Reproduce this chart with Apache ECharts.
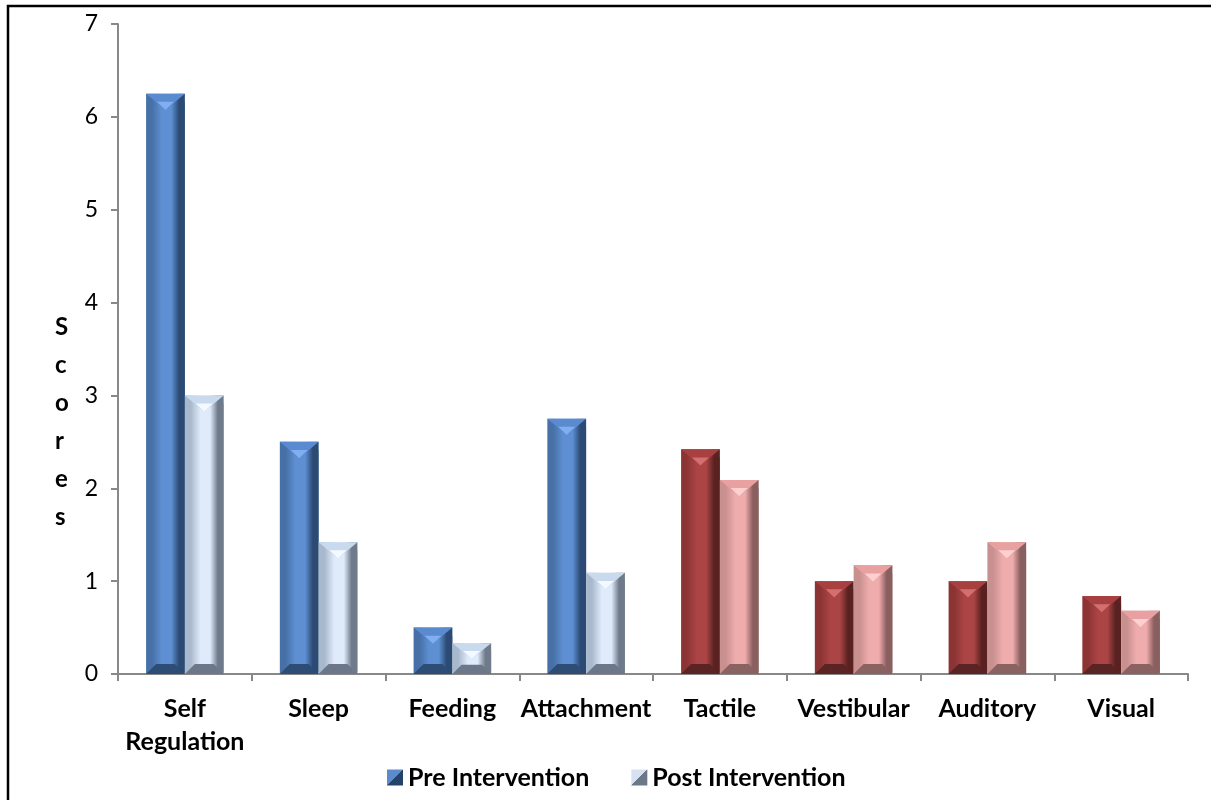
<!DOCTYPE html>
<html>
<head>
<meta charset="utf-8">
<script src="https://cdn.jsdelivr.net/npm/echarts@6/dist/echarts.min.js"></script>
<style>
  html, body { margin: 0; padding: 0; background: #fff; }
  #main { width: 1211px; height: 800px; }
</style>
</head>
<body>
<div id="main"></div>
<script>
// categories and scores
const categories = ['Self\nRegulation', 'Sleep', 'Feeding', 'Attachment', 'Tactile', 'Vestibular', 'Auditory', 'Visual']
const preValues = [6.25, 2.5, 0.5, 2.75, 2.42, 1.0, 1.0, 0.84]
const postValues = [3.0, 1.42, 0.33, 1.09, 2.09, 1.17, 1.42, 0.68]
const seriesNames = ['Pre Intervention', 'Post Intervention']
const yTicks = [0, 1, 2, 3, 4, 5, 6, 7]
const yTitle = 'Scores'

// bevel palettes: [left, centre, right, top, topInner, bottom]
const palettes = {
  blue: [
    ['#4670a6', '#5d8fd2', '#2c4b74', '#5a8bd0', '#80aef0', '#2d4d75'],
    ['#a9b9cd', '#dfeafa', '#6f7b8a', '#c9d9ee', '#f4f9ff', '#6c7889']
  ],
  red: [
    ['#8c3434', '#ab4444', '#5a2222', '#a84040', '#d27070', '#5b2424'],
    ['#c99090', '#efacac', '#8a5f5f', '#e8a0a0', '#fcd0d0', '#8b6262']
  ]
}

function bevelBar (params, api) {
  const ci = api.value(0)
  const v = api.value(1)
  const p = api.coord([ci, v])
  const base = api.coord([ci, 0])
  const band = api.size([1, 0])[0]
  const w = band * 0.29
  const x0 = params.seriesIndex === 0 ? p[0] - w : p[0]
  const x1 = x0 + w
  const xc = (x0 + x1) / 2
  const top = p[1]
  const bot = base[1]
  const h = bot - top
  const pal = palettes[ci < 4 ? 'blue' : 'red'][params.seriesIndex]
  const side = 5
  const th = Math.min(w * 0.42, h * 0.5)
  const bh = Math.min(10, h * 0.3)
  return {
    type: 'group',
    children: [
      {
        type: 'rect',
        shape: { x: x0, y: top, width: w, height: h },
        style: {
          fill: new echarts.graphic.LinearGradient(0, 0, 1, 0, [
            { offset: 0, color: pal[0] },
            { offset: 0.15, color: pal[0] },
            { offset: 0.4, color: pal[1] },
            { offset: 0.65, color: pal[1] },
            { offset: 0.85, color: pal[2] },
            { offset: 1, color: pal[2] }
          ])
        }
      },
      {
        type: 'polygon',
        shape: { points: [[x0, bot], [x1, bot], [x1 - bh, bot - bh], [x0 + bh, bot - bh]] },
        style: { fill: pal[5] }
      },
      {
        type: 'polygon',
        shape: { points: [[x0, top], [x1, top], [xc, top + th]] },
        style: { fill: pal[3] }
      },
      {
        type: 'polygon',
        shape: { points: [[xc - w * 0.22, top + th * 0.5], [xc + w * 0.22, top + th * 0.5], [xc, top + th]] },
        style: { fill: pal[4] }
      },
      {
        type: 'rect',
        shape: { x: x1 - side, y: top + th * 0.5, width: side, height: h - th * 0.5 - 2 },
        style: { fill: pal[2], opacity: 0.6 }
      }
    ]
  }
}

const chart = echarts.init(document.getElementById('main'))

const option = {
  animation: false,
  textStyle: { fontFamily: 'Lato' },
  title: {
    text: yTitle.split('').join('\n'),
    left: 50,
    top: 303,
    textStyle: { fontFamily: 'Lato', fontWeight: 'bold', fontSize: 24, lineHeight: 38, color: '#000' }
  },
  graphic: [
    {
      type: 'rect',
      shape: { x: 8, y: 6, width: 1400, height: 1000 },
      style: { fill: 'none', stroke: '#000', lineWidth: 2.5 },
      silent: true
    }
  ],
  grid: { left: 118, right: 23, top: 24, bottom: 126 },
  legend: {
    bottom: 5,
    left: 382,
    itemWidth: 16,
    itemHeight: 16,
    itemGap: 42,
    textStyle: { fontFamily: 'Lato', fontWeight: 'bold', fontSize: 25, color: '#000' },
    data: [
      {
        name: seriesNames[0],
        icon: 'rect',
        itemStyle: {
          color: new echarts.graphic.LinearGradient(0, 0, 1, 1, [
            { offset: 0, color: '#5b8bcc' },
            { offset: 0.5, color: '#5b8bcc' },
            { offset: 0.5, color: '#24436b' },
            { offset: 1, color: '#24436b' }
          ])
        }
      },
      {
        name: seriesNames[1],
        icon: 'rect',
        itemStyle: {
          color: new echarts.graphic.LinearGradient(0, 0, 1, 1, [
            { offset: 0, color: '#d6e2f2' },
            { offset: 0.5, color: '#d6e2f2' },
            { offset: 0.5, color: '#6c7888' },
            { offset: 1, color: '#6c7888' }
          ])
        }
      }
    ]
  },
  xAxis: {
    type: 'category',
    data: categories,
    boundaryGap: true,
    axisLine: { lineStyle: { color: '#888', width: 2 } },
    axisTick: { show: true, length: 7, inside: false, lineStyle: { color: '#888', width: 2 } },
    axisLabel: {
      interval: 0,
      margin: 18,
      fontFamily: 'Lato',
      fontWeight: 'bold',
      fontSize: 25,
      lineHeight: 33,
      color: '#000'
    },
    splitLine: { show: false }
  },
  yAxis: {
    type: 'value',
    min: yTicks[0],
    max: yTicks[yTicks.length - 1],
    interval: 1,
    axisLine: { show: true, lineStyle: { color: '#888', width: 2 } },
    axisTick: { show: true, length: 7, lineStyle: { color: '#888', width: 2 } },
    axisLabel: { margin: 20, fontFamily: 'Lato', fontSize: 23, color: '#000' },
    splitLine: { show: false }
  },
  series: [
    {
      name: seriesNames[0],
      type: 'custom',
      renderItem: bevelBar,
      encode: { x: 0, y: 1 },
      itemStyle: { color: '#3f6aa0' },
      data: preValues.map((v, i) => [i, v])
    },
    {
      name: seriesNames[1],
      type: 'custom',
      renderItem: bevelBar,
      encode: { x: 0, y: 1 },
      itemStyle: { color: '#c9d9ee' },
      data: postValues.map((v, i) => [i, v])
    }
  ]
}

chart.setOption(option)
</script>
</body>
</html>
